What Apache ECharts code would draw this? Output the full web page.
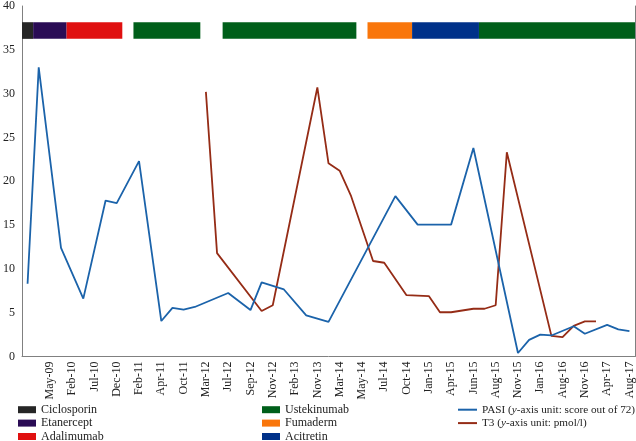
<!DOCTYPE html>
<html><head><meta charset="utf-8">
<script src="https://cdn.jsdelivr.net/npm/echarts@6/dist/echarts.min.js"></script>
<style>html,body{margin:0;padding:0;background:#fff}#c{width:636px;height:441px}</style>
</head><body><div id="c"></div>
<script>
// x categories (labels only on every other category)
const categories = ['', '', 'May-09', '', 'Feb-10', '', 'Jul-10', '', 'Dec-10', '', 'Feb-11', '', 'Apr-11', '', 'Oct-11', '', 'Mar-12', '', 'Jul-12', '', 'Sep-12', '', 'Nov-12', '', 'Feb-13', '', 'Nov-13', '', 'Mar-14', '', 'May-14', '', 'Jul-14', '', 'Oct-14', '', 'Jan-15', '', 'Apr-15', '', 'Jun-15', '', 'Aug-15', '', 'Nov-15', '', 'Jan-16', '', 'Aug-16', '', 'Nov-16', '', 'Apr-17', '', 'Aug-17'];
const yTicks = [0, 5, 10, 15, 20, 25, 30, 35, 40];
const N = null;
// PASI values (score out of 72)
const pasi = [8.3, 33.0, N, 12.4, N, 6.6, N, 17.8, 17.5, N, 22.3, N, 4.05, 5.55, 5.35, 5.65, N, N, 7.25, N, 5.3, 8.45, N, 7.65, N, 4.7, N, 3.95, N, N, N, N, N, 18.3, N, 15.05, N, N, 15.05, N, 23.8, N, N, N, 0.4, 1.9, 2.5, 2.4, N, 3.45, 2.6, N, 3.6, 3.1, 2.9];
// T3 values (pmol/l)
const t3 = [N, N, N, N, N, N, N, N, N, N, N, N, N, N, N, N, 30.2, 11.8, N, N, N, 5.2, 5.85, N, N, N, 30.7, 22.05, 21.2, 18.4, N, 10.9, 10.7, N, 7.0, N, 6.9, 5.05, 5.05, N, 5.45, 5.45, 5.85, 23.3, N, N, N, 2.35, 2.2, 3.5, 4.0, 4.0, N, N, N];
// treatment periods: [first category, last category]
const ciclosporin = [[0, 0]];
const etanercept = [[1, 3]];
const adalimumab = [[4, 8]];
const ustekinumab = [[10, 15], [18, 29], [41, 54]];
const fumaderm = [[31, 34]];
const acitretin = [[35, 40]];

const BAR_TOP = 38.15, BAR_BOTTOM = 36.25;
const FONT = 'Liberation Serif';

function renderSeg(params, api) {
  const s = api.value(0), e = api.value(1);
  const bw = api.size([1, 0])[0];
  const p0 = api.coord([s, BAR_TOP]);
  const p1 = api.coord([e, BAR_BOTTOM]);
  return {
    type: 'rect',
    shape: { x: p0[0] - bw / 2, y: p0[1], width: p1[0] - p0[0] + bw, height: p1[1] - p0[1] },
    style: api.style()
  };
}
function seg(name, data, color) {
  return { name, type: 'custom', renderItem: renderSeg, data, itemStyle: { color }, z: 1, silent: true };
}

const chart = echarts.init(document.getElementById('c'), null, { renderer: 'canvas' });
function richFor(size) {
  return { n: { fontFamily: FONT, fontSize: size, color: '#222' }, i: { fontFamily: FONT, fontSize: size, fontStyle: 'italic', color: '#222' } };
}
const legendFmt = function (name) {
  if (name === 'PASI') return '{n|PASI (}{i|y}{n|-axis unit: score out of 72)}';
  if (name === 'T3') return '{n|T3 (}{i|y}{n|-axis unit: pmol/l)}';
  return '{n|' + name + '}';
};
const legendBase = {
  orient: 'vertical', itemWidth: 18, itemHeight: 7, itemGap: 0, padding: 0, height: 60,
  textStyle: { fontFamily: FONT, fontSize: 12, lineHeight: 13.4, color: '#222', rich: richFor(12) },
  formatter: legendFmt, selectedMode: false
};
chart.setOption({
  animation: false,
  backgroundColor: '#fff',
  grid: { left: 19, right: 1, top: 3.7, bottom: 84.5, containLabel: false },
  legend: [
    Object.assign({}, legendBase, { left: 18, top: 403, data: [{ name: 'Ciclosporin', icon: 'rect' }, { name: 'Etanercept', icon: 'rect' }, { name: 'Adalimumab', icon: 'rect' }] }),
    Object.assign({}, legendBase, { left: 262, top: 403, data: [{ name: 'Ustekinumab', icon: 'rect' }, { name: 'Fumaderm', icon: 'rect' }, { name: 'Acitretin', icon: 'rect' }] }),
    Object.assign({}, legendBase, {
      left: 458, top: 403, width: 180, itemWidth: 19, itemHeight: 2,
      textStyle: { fontFamily: FONT, fontSize: 11.2, lineHeight: 13.4, color: '#222', rich: richFor(11.2) },
      data: [{ name: 'PASI', icon: 'rect' }, { name: 'T3', icon: 'rect' }]
    })
  ],
  xAxis: {
    type: 'category', data: categories, boundaryGap: true,
    axisLine: { lineStyle: { color: '#808080', width: 1 } },
    axisTick: { show: false },
    axisLabel: { interval: 0, rotate: 90, margin: 5, fontFamily: FONT, fontSize: 12, color: '#222' }
  },
  yAxis: [{
    type: 'value', min: yTicks[0], max: yTicks[yTicks.length - 1], interval: 5,
    axisLine: { show: true, lineStyle: { color: '#808080', width: 1 } },
    axisTick: { show: false }, splitLine: { show: false },
    axisLabel: { margin: 7, fontFamily: FONT, fontSize: 12, color: '#222' }
  }, {
    type: 'value', position: 'right', min: yTicks[0], max: yTicks[yTicks.length - 1],
    axisLine: { show: true, lineStyle: { color: '#808080', width: 1 } },
    axisTick: { show: false }, splitLine: { show: false }, axisLabel: { show: false }
  }],
  series: [
    seg('Ciclosporin', ciclosporin, '#262626'),
    seg('Etanercept', etanercept, '#2a0c55'),
    seg('Adalimumab', adalimumab, '#e01010'),
    seg('Ustekinumab', ustekinumab, '#005f1a'),
    seg('Fumaderm', fumaderm, '#f9760b'),
    seg('Acitretin', acitretin, '#003189'),
    { name: 'PASI', type: 'line', data: pasi, connectNulls: true, symbol: 'none', lineStyle: { color: '#1b63aa', width: 1.8 }, itemStyle: { color: '#1b63aa' }, z: 3 },
    { name: 'T3', type: 'line', data: t3, connectNulls: true, symbol: 'none', lineStyle: { color: '#952c16', width: 1.8 }, itemStyle: { color: '#952c16' }, z: 2 }
  ]
});
</script></body></html>
